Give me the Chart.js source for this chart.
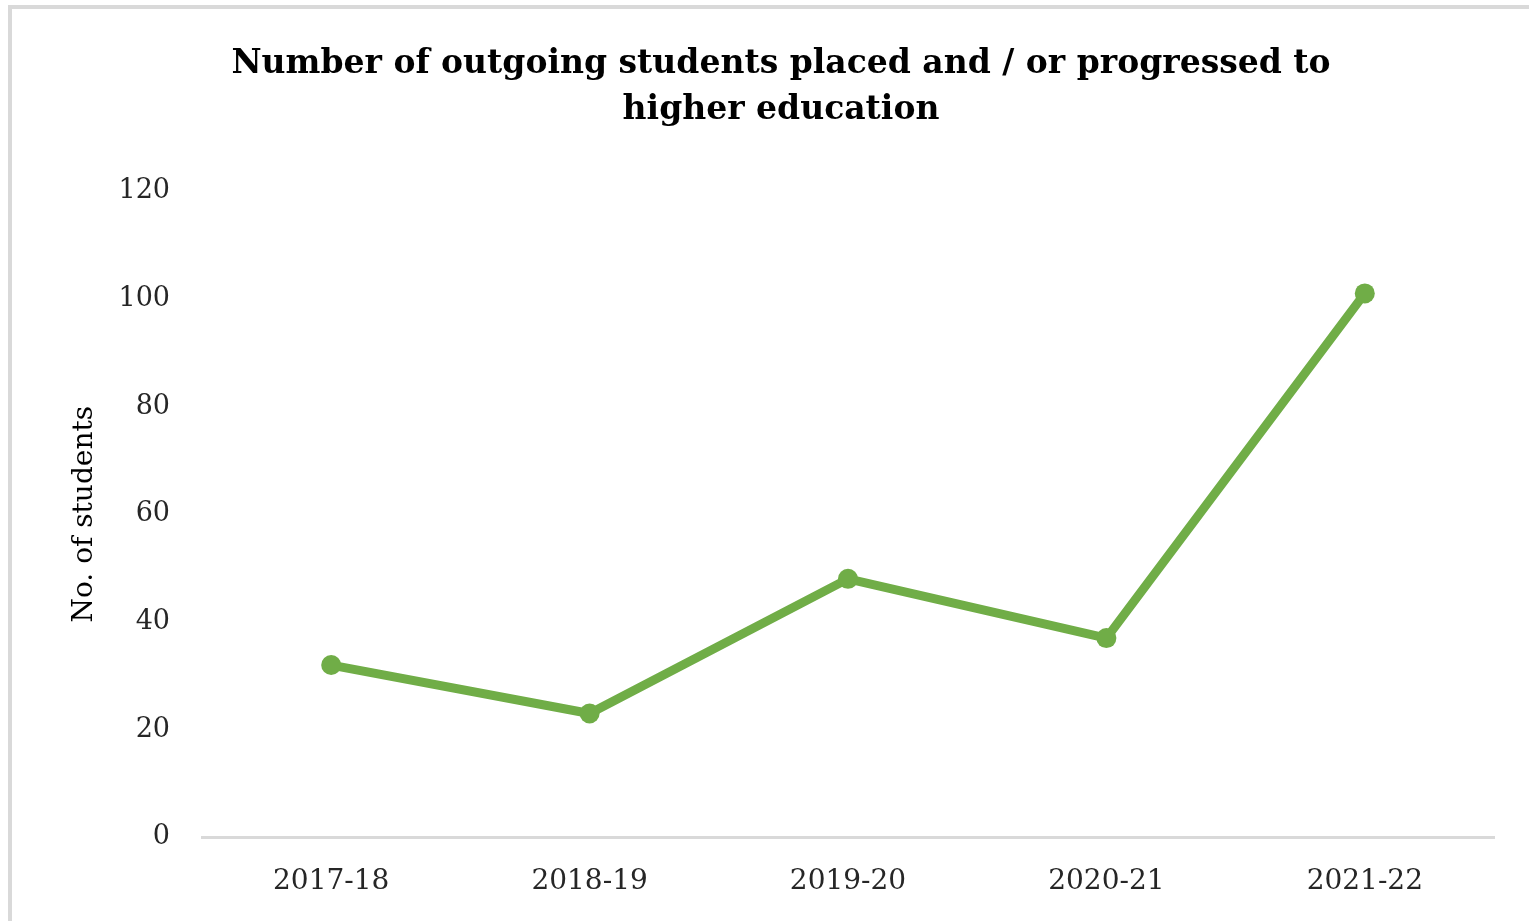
<!DOCTYPE html>
<html>
<head>
<meta charset="utf-8">
<script src="https://cdn.jsdelivr.net/npm/chart.js@4.4.1/dist/chart.umd.min.js"></script>
<style>
html,body{margin:0;padding:0;background:#fff;overflow:hidden;}
#frame{position:absolute;left:8px;top:5px;width:1540px;height:940px;border-left:4px solid #d9d9d9;border-top:4px solid #d9d9d9;box-sizing:border-box;}
#wrap{position:absolute;left:0;top:0;width:1529px;height:937px;}
</style>
</head>
<body>
<div id="frame"></div>
<div id="wrap"><canvas id="c" width="1529" height="937"></canvas></div>
<script>
const categories = ["2017-18", "2018-19", "2019-20", "2020-21", "2021-22"];
const students = [32, 23, 48, 37, 101];
const yTicks = [0, 20, 40, 60, 80, 100, 120];
const titleLines = ["Number of outgoing students placed and / or progressed to", "higher education"];
const yTitle = "No. of students";

const green = "#70ad47";
const serif = "'DejaVu Serif', serif";

new Chart(document.getElementById('c'), {
  type: 'line',
  data: {
    labels: categories,
    datasets: [{
      data: students,
      borderColor: green,
      backgroundColor: green,
      borderWidth: 9,
      pointRadius: 10,
      pointHoverRadius: 10,
      pointBackgroundColor: green,
      pointBorderWidth: 0,
      tension: 0,
      borderCapStyle: 'round',
      borderJoinStyle: 'round'
    }]
  },
  options: {
    responsive: false,
    animation: false,
    devicePixelRatio: 1,
    layout: { padding: { left: 68, right: 35, top: 24, bottom: 10 } },
    plugins: {
      legend: { display: false },
      tooltip: { enabled: false },
      title: {
        display: true,
        text: titleLines,
        color: '#000',
        font: { family: serif, size: 33, weight: 'bold', lineHeight: 1.38 },
        padding: { top: 18, bottom: 58 }
      }
    },
    scales: {
      x: {
        type: 'category',
        offset: true,
        grid: { display: false, drawTicks: false },
        border: { display: true, color: '#d9d9d9', width: 3 },
        ticks: { color: '#262626', font: { family: serif, size: 28 }, padding: 28, maxRotation: 0 }
      },
      y: {
        min: 0,
        max: 120,
        afterBuildTicks: (s) => { s.ticks = yTicks.map(v => ({ value: v })); },
        afterFit: (s) => { s.width = 134; },
        grid: { display: false, drawTicks: false },
        border: { display: false },
        ticks: { color: '#262626', font: { family: serif, size: 27 }, padding: 32 },
        title: {
          display: true,
          text: yTitle,
          color: '#000',
          font: { family: serif, size: 28 },
          padding: { top: 0, bottom: 0 }
        }
      }
    }
  }
});
</script>
</body>
</html>
